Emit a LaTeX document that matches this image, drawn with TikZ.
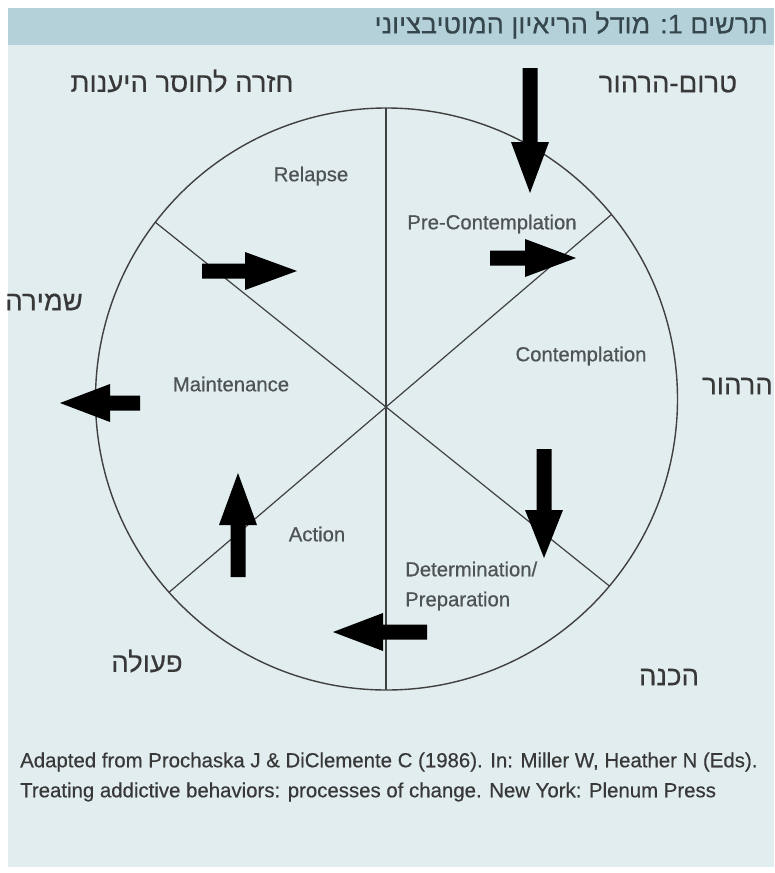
\documentclass[tikz,border=0pt]{standalone}
\usepackage{fontspec}
\setmainfont{Liberation Sans}
\newfontfamily\hebfont[Script=Hebrew,FakeBold=0.4]{Liberation Sans}
\newfontfamily\labelfont[FakeBold=0.5]{Liberation Sans}
\newfontfamily\srcfont[FakeBold=0.4]{Liberation Sans}
\TeXXeTstate=1
\definecolor{panelbg}{HTML}{E2EDF0}
\definecolor{headbar}{HTML}{B4D1DA}
\definecolor{titleink}{HTML}{35464C}
\definecolor{labelink}{HTML}{4E5356}
\definecolor{hebink}{HTML}{383838}
\definecolor{lineink}{HTML}{404040}
\tikzset{
  stagelabel/.style={text=labelink, inner sep=0pt, font=\labelfont\fontsize{20.3}{24}\selectfont},
  heblabel/.style={text=hebink, inner sep=0pt, font=\hebfont\fontsize{27.5}{32}\selectfont},
  srcline/.style={anchor=west, text=hebink, inner sep=0pt, font=\srcfont\fontsize{20.4}{24}\selectfont},
  wheel/.style={draw=lineink, line width=1.4pt},
  spoke/.style={draw=lineink, line width=1.2pt},
  pics/blockarr/.style 2 args={code={
    \fill[black] (0,-7.5) -- (#2,-7.5) -- (#2,-19) -- (#1,0) -- (#2,19) -- (#2,7.5) -- (0,7.5) -- cycle;
  }}
}
\begin{document}
\begin{tikzpicture}[x=1pt,y=-1pt]
\useasboundingbox (0,0) rectangle (774,873);
% panel and header bar
\fill[white] (0,0) rectangle (774,873);
\fill[panelbg] (8,8) rectangle (774,867);
\fill[headbar] (8,8) rectangle (774,45);
\node[anchor=east, text=titleink, inner sep=0pt, font=\hebfont\fontsize{27}{32}\selectfont] (title) at (768,25) {\beginR תרשים 1: מודל הריאיון המוטיבציוני\endR};

% wheel
\coordinate (C) at (386.5,399);
\coordinate (hub) at (386,407);
\coordinate (top) at (386,108);
\coordinate (bot) at (386,690);
\coordinate (ul) at (155.4,222.3);
\coordinate (lr) at (609.4,586);
\coordinate (ur) at (611.5,214.5);
\coordinate (ll) at (169,592.3);
\draw[wheel] (C) circle[radius=291];
\draw[spoke] (top) -- (bot);
\draw[spoke] (ul) -- (hub) -- (lr);
\draw[spoke] (ur) -- (hub) -- (ll);

% stage names
\node[stagelabel] (relapse) at (311,176) {Relapse};
\node[stagelabel] (precon) at (492,224) {Pre-Contemplation};
\node[stagelabel] (contemp) at (581,356) {Contemplation};
\node[stagelabel] (maint) at (231,384) {Maintenance};
\node[stagelabel] (action) at (317,534) {Action};
\node[stagelabel, anchor=west] (determ) at (405,569) {Determination/};
\node[stagelabel, anchor=west] (prep) at (405,601) {Preparation};

% Hebrew stage names
\node[heblabel] (hrelapse) at (182,81) {\beginR חזרה לחוסר היענות\endR};
\node[heblabel] (hprecon) at (668,84) {\beginR טרום-הרהור\endR};
\node[heblabel, anchor=east] (hmaint) at (83,302) {\beginR שמירה\endR};
\node[heblabel, anchor=west] (hcontemp) at (702,386) {\beginR הרהור\endR};
\node[heblabel] (haction) at (147,661) {\beginR פעולה\endR};
\node[heblabel] (hprep) at (669,677) {\beginR הכנה\endR};

% block arrows between stages
\pic[rotate=-90] at (530,68) {blockarr={125}{74}};
\pic at (490,258) {blockarr={86}{35}};
\pic at (202,271) {blockarr={95}{43}};
\pic[rotate=180] at (140,403) {blockarr={80}{30}};
\pic[rotate=90] at (238,577) {blockarr={104}{52}};
\pic[rotate=-90] at (544,449) {blockarr={109}{61}};
\pic[rotate=180] at (427,632) {blockarr={94}{44}};

% source
\node[srcline] (src1) at (20,762) {Adapted from Prochaska J \& DiClemente C (1986). In: Miller W, Heather N (Eds).};
\node[srcline] (src2) at (20,792) {Treating addictive behaviors: processes of change. New York: Plenum Press};
\end{tikzpicture}
\end{document}
